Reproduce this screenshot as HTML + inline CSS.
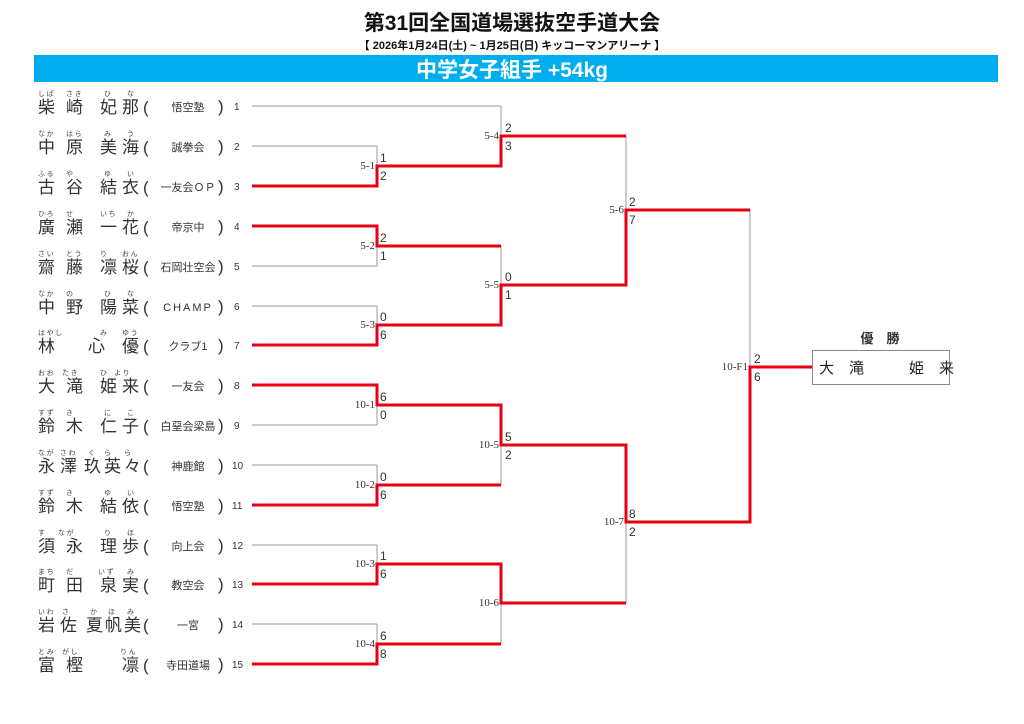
<!DOCTYPE html>
<html><head><meta charset="utf-8"><style>
html,body{margin:0;padding:0;background:#fff;width:1024px;height:724px;overflow:hidden}
svg{display:block}
.t{font-family:"Liberation Sans","Noto Sans CJK JP",sans-serif}
.k{font-family:"Liberation Sans","Noto Sans CJK JP",sans-serif;font-size:17px;fill:#333}
.f{font-family:"Noto Sans CJK JP",sans-serif;font-size:7px;fill:#444}
.c{font-family:"Liberation Sans","Noto Sans CJK JP",sans-serif;font-size:11px;fill:#333}
.n{font-family:"Liberation Sans",sans-serif;font-size:10px;fill:#333}
.s{font-family:"Liberation Sans",sans-serif;font-size:12px;fill:#333}
.l{font-family:"Liberation Serif",serif;font-size:11px;fill:#333}
</style></head><body>
<svg width="1024" height="724" viewBox="0 0 1024 724" xmlns="http://www.w3.org/2000/svg">
<text x="512" y="30" text-anchor="middle" class="t" font-size="21" font-weight="bold" fill="#111">第31回全国道場選抜空手道大会</text>
<text x="512" y="49" text-anchor="middle" class="t" font-size="11" font-weight="bold" fill="#111">【 2026年1月24日(土) ~ 1月25日(日)  キッコーマンアリーナ 】</text>
<rect x="34" y="55" width="964" height="27" fill="#00aeef"/>
<text x="512" y="77" text-anchor="middle" class="t" font-size="21" font-weight="bold" fill="#fff">中学女子組手 +54kg</text>

<g stroke="#999" stroke-width="1" fill="none">
<path d="M252 106H501M252 146H377M252 186H377M252 226H377M252 266H377M252 306H377M252 345H377M252 385H377M252 425H377M252 465H377M252 505H377M252 545H377M252 584H377M252 624H377M252 664H377"/>
<path d="M377 146V186M377 226V266M377 306V345M377 385V425M377 465V505M377 545V584M377 624V664"/>
<path d="M377 166H501M377 246H501M377 325H501M377 405H501M377 485H501M377 564H501M377 644H501"/>
<path d="M501 106V166M501 246V325M501 405V485M501 564V644"/>
<path d="M501 136H626M501 285H626M501 445H626M501 603H626M626 136V285M626 445V603M626 210H750M626 522H750M750 210V522"/>
</g>
<g stroke="#e60012" stroke-width="3" fill="none" stroke-linejoin="miter">
<path d="M252 186H377V166H501V136H626"/>
<path d="M252 226H377V246H501"/>
<path d="M252 345H377V325H501V285H626V210H750"/>
<path d="M252 385H377V405H501V445H626V522H750V367H812"/>
<path d="M252 505H377V485H501"/>
<path d="M252 584H377V564H501V603H626"/>
<path d="M252 664H377V644H501"/>
</g>
<rect x="812.5" y="350.5" width="137" height="34" fill="#fff" stroke="#888"/>
<text x="880" y="343" text-anchor="middle" class="t" font-size="13" font-weight="bold" fill="#333">優　勝</text>
<text x="819" y="373" class="t" font-size="15" fill="#222" xml:space="preserve">大　滝　　　姫　来</text>

<g class="l" text-anchor="end">
<text x="375" y="169" class="l">5-1</text><text x="375" y="249" class="l">5-2</text><text x="375" y="328" class="l">5-3</text>
<text x="375" y="408" class="l">10-1</text><text x="375" y="488" class="l">10-2</text><text x="375" y="567" class="l">10-3</text><text x="375" y="647" class="l">10-4</text>
<text x="499" y="139" class="l">5-4</text><text x="499" y="288" class="l">5-5</text><text x="499" y="448" class="l">10-5</text><text x="499" y="606" class="l">10-6</text>
<text x="624" y="213" class="l">5-6</text><text x="624" y="525" class="l">10-7</text>
<text x="748" y="370" class="l">10-F1</text>
</g>
<g class="s">
<text x="380" y="162">1</text><text x="380" y="180">2</text>
<text x="380" y="242">2</text><text x="380" y="260">1</text>
<text x="380" y="321">0</text><text x="380" y="339">6</text>
<text x="380" y="401">6</text><text x="380" y="419">0</text>
<text x="380" y="481">0</text><text x="380" y="499">6</text>
<text x="380" y="560">1</text><text x="380" y="578">6</text>
<text x="380" y="640">6</text><text x="380" y="658">8</text>
<text x="505" y="132">2</text><text x="505" y="150">3</text>
<text x="505" y="281">0</text><text x="505" y="299">1</text>
<text x="505" y="441">5</text><text x="505" y="459">2</text>
<text x="629" y="206">2</text><text x="629" y="224">7</text>
<text x="629" y="518">8</text><text x="629" y="536">2</text>
<text x="754" y="363">2</text><text x="754" y="381">6</text>
</g>

<g class="k">
<text y="113"><tspan x="38">柴</tspan><tspan x="66">崎</tspan><tspan x="100">妃</tspan><tspan x="122">那</tspan><tspan x="143">(</tspan></text>
<text y="153"><tspan x="38">中</tspan><tspan x="66">原</tspan><tspan x="100">美</tspan><tspan x="122">海</tspan><tspan x="143">(</tspan></text>
<text y="193"><tspan x="38">古</tspan><tspan x="66">谷</tspan><tspan x="100">結</tspan><tspan x="122">衣</tspan><tspan x="143">(</tspan></text>
<text y="233"><tspan x="38">廣</tspan><tspan x="66">瀬</tspan><tspan x="100">一</tspan><tspan x="122">花</tspan><tspan x="143">(</tspan></text>
<text y="273"><tspan x="38">齋</tspan><tspan x="66">藤</tspan><tspan x="100">凛</tspan><tspan x="122">桜</tspan><tspan x="143">(</tspan></text>
<text y="313"><tspan x="38">中</tspan><tspan x="66">野</tspan><tspan x="100">陽</tspan><tspan x="122">菜</tspan><tspan x="143">(</tspan></text>
<text y="352"><tspan x="38">林</tspan><tspan x="88">心</tspan><tspan x="122">優</tspan><tspan x="143">(</tspan></text>
<text y="392"><tspan x="38">大</tspan><tspan x="66">滝</tspan><tspan x="100">姫</tspan><tspan x="122">来</tspan><tspan x="143">(</tspan></text>
<text y="432"><tspan x="38">鈴</tspan><tspan x="66">木</tspan><tspan x="100">仁</tspan><tspan x="122">子</tspan><tspan x="143">(</tspan></text>
<text y="472"><tspan x="38">永</tspan><tspan x="60">澤</tspan><tspan x="84">玖</tspan><tspan x="104">英</tspan><tspan x="124">々</tspan><tspan x="143">(</tspan></text>
<text y="512"><tspan x="38">鈴</tspan><tspan x="66">木</tspan><tspan x="100">結</tspan><tspan x="122">依</tspan><tspan x="143">(</tspan></text>
<text y="552"><tspan x="38">須</tspan><tspan x="66">永</tspan><tspan x="100">理</tspan><tspan x="122">歩</tspan><tspan x="143">(</tspan></text>
<text y="591"><tspan x="38">町</tspan><tspan x="66">田</tspan><tspan x="100">泉</tspan><tspan x="122">実</tspan><tspan x="143">(</tspan></text>
<text y="631"><tspan x="38">岩</tspan><tspan x="60">佐</tspan><tspan x="86">夏</tspan><tspan x="105">帆</tspan><tspan x="124">美</tspan><tspan x="143">(</tspan></text>
<text y="671"><tspan x="38">富</tspan><tspan x="66">樫</tspan><tspan x="122">凛</tspan><tspan x="143">(</tspan></text>
</g>
<g class="f">
<text y="96"><tspan x="38">し ば</tspan><tspan x="66">さ き</tspan><tspan x="104">ひ</tspan><tspan x="127">な</tspan></text>
<text y="136"><tspan x="38">な か</tspan><tspan x="66">は ら</tspan><tspan x="104">み</tspan><tspan x="127">う</tspan></text>
<text y="176"><tspan x="38">ふ る</tspan><tspan x="66">や</tspan><tspan x="104">ゆ</tspan><tspan x="127">い</tspan></text>
<text y="216"><tspan x="38">ひ ろ</tspan><tspan x="66">せ</tspan><tspan x="100">い ち</tspan><tspan x="127">か</tspan></text>
<text y="256"><tspan x="38">さ い</tspan><tspan x="66">と う</tspan><tspan x="100">り</tspan><tspan x="122">お ん</tspan></text>
<text y="296"><tspan x="38">な か</tspan><tspan x="66">の</tspan><tspan x="104">ひ</tspan><tspan x="127">な</tspan></text>
<text y="335"><tspan x="38">は や し</tspan><tspan x="100">み</tspan><tspan x="122">ゆ う</tspan></text>
<text y="375"><tspan x="38">お お</tspan><tspan x="62">た き</tspan><tspan x="100">ひ</tspan><tspan x="114">よ り</tspan></text>
<text y="415"><tspan x="38">す ず</tspan><tspan x="66">き</tspan><tspan x="104">に</tspan><tspan x="127">こ</tspan></text>
<text y="455"><tspan x="38">な が</tspan><tspan x="60">さ わ</tspan><tspan x="88">く</tspan><tspan x="104">ら</tspan><tspan x="124">ら</tspan></text>
<text y="495"><tspan x="38">す ず</tspan><tspan x="66">き</tspan><tspan x="104">ゆ</tspan><tspan x="127">い</tspan></text>
<text y="535"><tspan x="38">す</tspan><tspan x="58">な が</tspan><tspan x="104">り</tspan><tspan x="127">ほ</tspan></text>
<text y="574"><tspan x="38">ま ち</tspan><tspan x="66">だ</tspan><tspan x="98">い ず</tspan><tspan x="127">み</tspan></text>
<text y="614"><tspan x="38">い わ</tspan><tspan x="62">さ</tspan><tspan x="90">か</tspan><tspan x="108">ほ</tspan><tspan x="127">み</tspan></text>
<text y="654"><tspan x="38">と み</tspan><tspan x="62">が し</tspan><tspan x="120">り ん</tspan></text>
</g>
<g class="c" text-anchor="middle">
<text x="188" y="111">悟空塾</text><text x="188" y="151">誠拳会</text><text x="188" y="191">一友会ＯＰ</text>
<text x="188" y="231">帝京中</text><text x="188" y="271">石岡壮空会</text><text x="188" y="311" letter-spacing="2">CHAMP</text>
<text x="188" y="350">クラブ1</text><text x="188" y="390">一友会</text><text x="188" y="430">白堊会梁島</text>
<text x="188" y="470">神鹿館</text><text x="188" y="510">悟空塾</text><text x="188" y="550">向上会</text>
<text x="188" y="589">教空会</text><text x="188" y="629">一宮</text><text x="188" y="669">寺田道場</text>
</g>
<g class="k" font-size="15"><text x="218" y="112">)</text><text x="218" y="152">)</text><text x="218" y="192">)</text><text x="218" y="232">)</text><text x="218" y="272">)</text><text x="218" y="312">)</text><text x="218" y="351">)</text><text x="218" y="391">)</text><text x="218" y="431">)</text><text x="218" y="471">)</text><text x="218" y="511">)</text><text x="218" y="551">)</text><text x="218" y="590">)</text><text x="218" y="630">)</text><text x="218" y="670">)</text></g>
<g class="n">
<text x="234" y="110">1</text><text x="234" y="150">2</text><text x="234" y="190">3</text><text x="234" y="230">4</text><text x="234" y="270">5</text><text x="234" y="310">6</text><text x="234" y="349">7</text><text x="234" y="389">8</text><text x="234" y="429">9</text><text x="232" y="469">10</text><text x="232" y="509">11</text><text x="232" y="549">12</text><text x="232" y="588">13</text><text x="232" y="628">14</text><text x="232" y="668">15</text>
</g>
</svg>
</body></html>
